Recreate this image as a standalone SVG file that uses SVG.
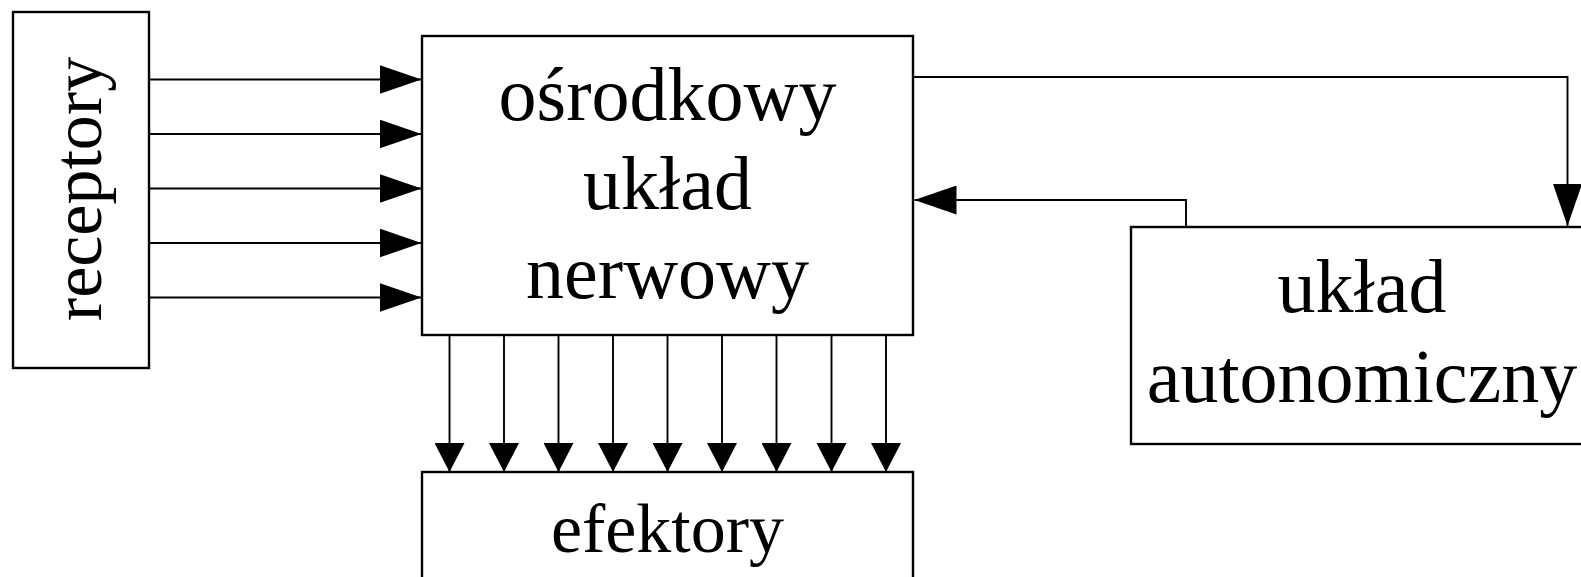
<svg xmlns="http://www.w3.org/2000/svg" width="1581" height="577" viewBox="0 0 1581 577">
  <style>
    .box { fill: #fff; stroke: #000; stroke-width: 2.4; }
    .lbl { font-family: "Liberation Serif", "Times New Roman", serif; font-size: 76px; fill: #000; text-anchor: middle; }
    .wire { fill: none; stroke: #000; stroke-width: 1.9; }
  </style>
  <defs>
    <marker id="headLong" markerUnits="userSpaceOnUse" markerWidth="42" markerHeight="29" refX="42" refY="14.5" orient="auto">
      <path d="M0,0 L42,14.5 L0,29 Z" fill="#000"/>
    </marker>
    <marker id="headShort" markerUnits="userSpaceOnUse" markerWidth="29" markerHeight="30" refX="29" refY="15" orient="auto">
      <path d="M0,0 L29,15 L0,30 Z" fill="#000"/>
    </marker>
  </defs>

  <rect width="1581" height="577" fill="#fff"/>

  <!-- receptors box, label reads bottom to top -->
  <g id="receptory">
    <rect class="box" x="13" y="12" width="136" height="356"/>
    <text class="lbl" style="font-size:70px" transform="translate(101,189) rotate(-90)">receptory</text>
  </g>

  <!-- central nervous system -->
  <g id="osrodkowy">
    <rect class="box" x="422" y="36" width="491" height="299"/>
    <text class="lbl" x="667.5" y="120">ośrodkowy</text>
    <text class="lbl" x="667.5" y="209">układ</text>
    <text class="lbl" x="667.5" y="298">nerwowy</text>
  </g>

  <!-- effectors, runs off the bottom edge -->
  <g id="efektory">
    <rect class="box" x="422" y="472" width="491" height="140"/>
    <text class="lbl" style="font-size:70px" x="667.5" y="552">efektory</text>
  </g>

  <!-- autonomic system, runs off the right edge -->
  <g id="autonomiczny">
    <rect class="box" x="1131" y="227" width="470" height="217"/>
    <text class="lbl" x="1362" y="311.5">układ</text>
    <text class="lbl" x="1362" y="401.5">autonomiczny</text>
  </g>

  <g id="connectors">
    <!-- receptors to CNS -->
    <line class="wire" x1="149" y1="79.5" x2="421.5" y2="79.5" marker-end="url(#headLong)"/>
    <line class="wire" x1="149" y1="134" x2="421.5" y2="134" marker-end="url(#headLong)"/>
    <line class="wire" x1="149" y1="188.5" x2="421.5" y2="188.5" marker-end="url(#headLong)"/>
    <line class="wire" x1="149" y1="243" x2="421.5" y2="243" marker-end="url(#headLong)"/>
    <line class="wire" x1="149" y1="297.5" x2="421.5" y2="297.5" marker-end="url(#headLong)"/>

    <!-- CNS to effectors -->
    <line class="wire" x1="449.5" y1="335" x2="449.5" y2="472" marker-end="url(#headShort)"/>
    <line class="wire" x1="504" y1="335" x2="504" y2="472" marker-end="url(#headShort)"/>
    <line class="wire" x1="558.5" y1="335" x2="558.5" y2="472" marker-end="url(#headShort)"/>
    <line class="wire" x1="613" y1="335" x2="613" y2="472" marker-end="url(#headShort)"/>
    <line class="wire" x1="667.5" y1="335" x2="667.5" y2="472" marker-end="url(#headShort)"/>
    <line class="wire" x1="722" y1="335" x2="722" y2="472" marker-end="url(#headShort)"/>
    <line class="wire" x1="776.5" y1="335" x2="776.5" y2="472" marker-end="url(#headShort)"/>
    <line class="wire" x1="831.5" y1="335" x2="831.5" y2="472" marker-end="url(#headShort)"/>
    <line class="wire" x1="886" y1="335" x2="886" y2="472" marker-end="url(#headShort)"/>

    <!-- CNS to autonomic system -->
    <path class="wire" d="M913,77 H1567.5 V226" marker-end="url(#headLong)"/>
    <!-- autonomic system back to CNS -->
    <path class="wire" d="M1186,227 V200 H914.5" marker-end="url(#headLong)"/>
  </g>
</svg>
